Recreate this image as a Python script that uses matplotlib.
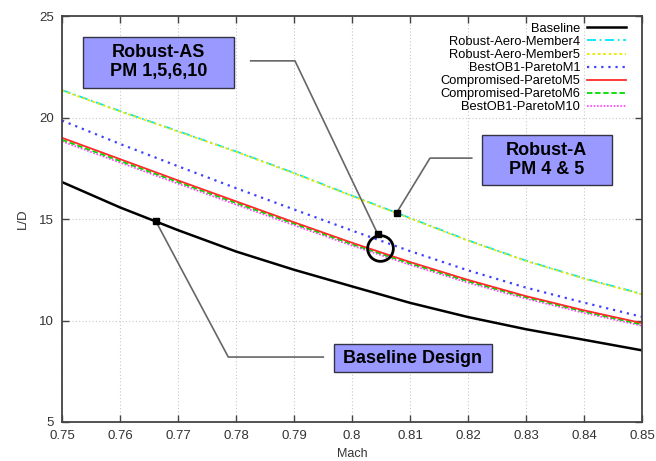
#!/usr/bin/env python3
# L/D vs Mach for the baseline and the robust / Pareto members

import numpy as np
from matplotlib import pyplot as plt, ticker
from matplotlib.patches import Rectangle

plt.rcParams['font.family'] = ['Liberation Sans', 'DejaVu Sans']

# Data
mach = [0.75, 0.76, 0.77, 0.78, 0.79, 0.80, 0.81, 0.82, 0.83, 0.84, 0.85]

baseline   = [16.82, 15.57, 14.45, 13.40, 12.50, 11.68, 10.87, 10.17, 9.57, 9.05, 8.53]
robust_m4  = [21.35, 20.32, 19.33, 18.33, 17.27, 16.15, 15.05, 13.95, 12.95, 12.08, 11.31]
robust_m5  = [21.33, 20.30, 19.31, 18.31, 17.25, 16.13, 15.03, 13.93, 12.93, 12.06, 11.29]
best_m1    = [19.85, 18.70, 17.60, 16.52, 15.47, 14.43, 13.42, 12.47, 11.62, 10.88, 10.18]
comp_m5    = [19.00, 17.95, 16.90, 15.87, 14.84, 13.83, 12.88, 12.00, 11.20, 10.50, 9.87]
comp_m6    = [18.90, 17.86, 16.82, 15.79, 14.77, 13.76, 12.81, 11.93, 11.14, 10.44, 9.80]
best_m10   = [18.82, 17.78, 16.74, 15.71, 14.69, 13.69, 12.74, 11.86, 11.07, 10.37, 9.74]

labels = ['Baseline', 'Robust-Aero-Member4', 'Robust-Aero-Member5',
          'BestOB1-ParetoM1', 'Compromised-ParetoM5', 'Compromised-ParetoM6',
          'BestOB1-ParetoM10']

# callouts: text, box (x0, y0, x1, y1) in data units, leader path, marker
callouts = [
    ('Robust-AS\nPM 1,5,6,10', (0.75357, 21.47, 0.77971, 23.97),
     [(0.78253, 22.79), (0.79017, 22.79), (0.8044, 14.28)]),
    ('Robust-A\nPM 4 & 5', (0.82236, 16.67, 0.84477, 19.15),
     [(0.82064, 18.00), (0.81345, 18.00), (0.8077, 15.31)]),
    ('Baseline Design', (0.79690, 7.44, 0.82409, 8.86),
     [(0.79505, 8.20), (0.77867, 8.20), (0.7662, 14.88)]),
]
circle_xy = (0.8048, 13.59)


def plot_ld_vs_mach(out_fig='out.png'):
    fig = plt.figure(figsize=(6.56, 4.61), dpi=100)
    ax = fig.add_axes([62/656, 1-422/461, 580/656, 406/461])

    # curves
    styles = [
        dict(color='black', lw=1.8, ls='-'),
        dict(color='#00e5ff', lw=1.3, dashes=(5, 2, 1, 2)),
        dict(color='#e8e800', lw=1.3, dashes=(1.5, 1.5)),
        dict(color='#4040ff', lw=1.6, dashes=(1, 2.2)),
        dict(color='#ff2a2a', lw=1.3, ls='-'),
        dict(color='#00dd00', lw=1.3, dashes=(3, 1.5)),
        dict(color='#ff40ff', lw=1.2, dashes=(1, 1)),
    ]
    series = [baseline, robust_m4, robust_m5, best_m1, comp_m5, comp_m6, best_m10]
    order = [0, 1, 2, 3, 6, 5, 4]   # draw red on top, as in the reference
    lines = [None] * len(series)
    for i in order:
        lines[i], = ax.plot(mach, series[i], label=labels[i], **styles[i])

    # axis format
    ax.set_xlim(0.75, 0.85)
    ax.set_ylim(5, 25)
    ax.xaxis.set_major_locator(ticker.MultipleLocator(0.01))
    ax.yaxis.set_major_locator(ticker.MultipleLocator(5))
    ax.xaxis.set_major_formatter(ticker.FuncFormatter(lambda v, p: '{:g}'.format(round(v, 2))))
    ax.tick_params(which='both', direction='in', length=5, width=1.0, color='#444444',
                   bottom=True, top=True, left=True, right=True,
                   labelsize=9.5, labelcolor='#333333', pad=6)
    for sp in ax.spines.values():
        sp.set_color('#444444')
        sp.set_linewidth(1.3)
    ax.grid(True, color='#c8c8c8', ls=(0, (1, 2)), lw=0.8)
    ax.set_axisbelow(True)
    ax.set_xlabel('Mach', fontsize=9, color='#333333', labelpad=4)
    ax.set_ylabel('L/D', fontsize=9.5, color='#333333', labelpad=7)

    # legend (gnuplot style: text first, right aligned)
    ax.legend(handles=lines, loc='upper right', bbox_to_anchor=(0.9724, 0.983),
              frameon=False, markerfirst=False, fontsize=9.3, handlelength=3.0,
              handletextpad=0.55, labelspacing=0.08, borderpad=0, borderaxespad=0)

    # callouts
    for text, (x0, y0, x1, y1), path in callouts:
        ax.add_patch(Rectangle((x0, y0), x1-x0, y1-y0, facecolor='#9999ff',
                               edgecolor='#333344', lw=1.0, zorder=5))
        ax.text((x0+x1)/2, (y0+y1)/2, text, ha='center', va='center',
                fontsize=13, fontweight='bold', color='black',
                linespacing=1.15, zorder=6)
        px, py = zip(*path)
        ax.plot(px, py, color='#666666', lw=1.2, zorder=4)
        ax.plot(px[-1], py[-1], marker='s', ms=5, color='black', zorder=7)

    ax.plot(*circle_xy, marker='o', ms=18.5, mfc='none', mec='black', mew=2, zorder=7)

    fig.savefig(out_fig, dpi=100)
    return


if __name__ == '__main__':
    plot_ld_vs_mach()
